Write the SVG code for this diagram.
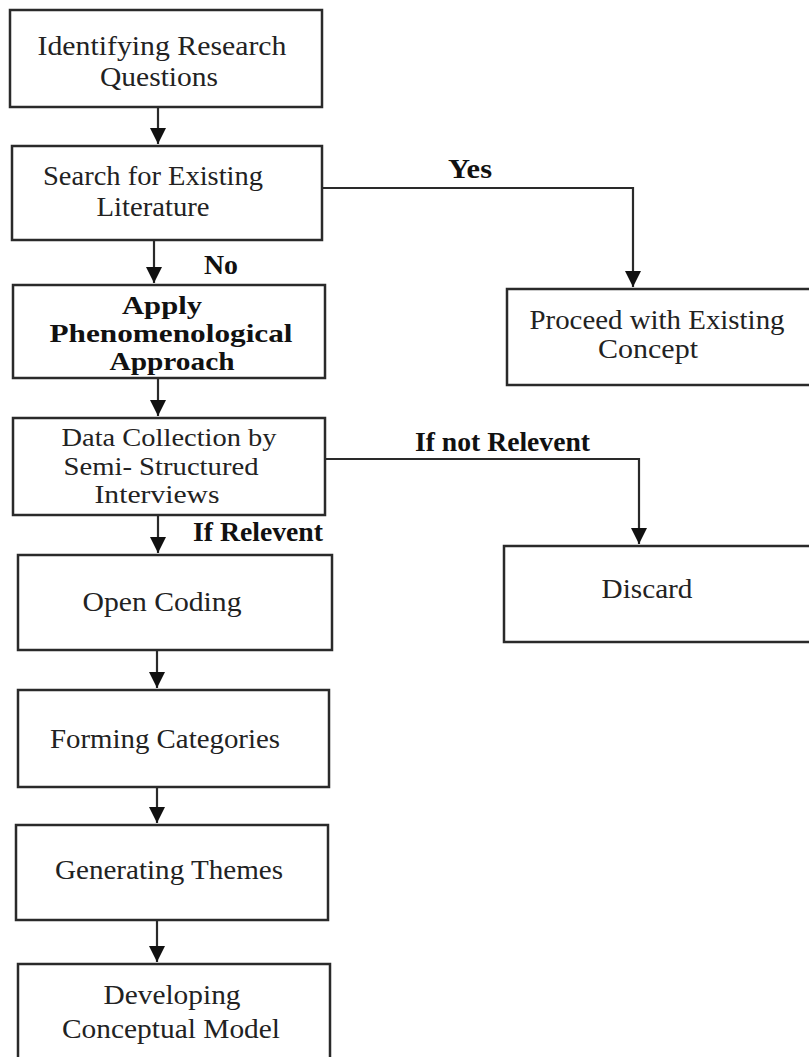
<svg xmlns="http://www.w3.org/2000/svg" width="809" height="1057" viewBox="0 0 809 1057">
<style>
.box{fill:#fff;stroke:#2a2a2a;stroke-width:2.5}
.t{font-family:"Liberation Serif","Times New Roman",serif;font-size:28px;fill:#222;text-anchor:middle}
.s{font-size:25px}
.b{font-family:"Liberation Serif","Times New Roman",serif;font-size:25px;font-weight:bold;fill:#111;text-anchor:middle}
.lbl{font-family:"Liberation Serif","Times New Roman",serif;font-size:27px;font-weight:bold;fill:#111}
.c{fill:none;stroke:#2a2a2a;stroke-width:2.2}
</style>
<defs>
<marker id="ah" markerUnits="userSpaceOnUse" markerWidth="16" markerHeight="16" viewBox="0 0 10 10" refX="10" refY="5" orient="auto">
<path d="M0,0 L10,5 L0,10 z" fill="#111"/>
</marker>
</defs>
<rect width="809" height="1057" fill="#fff"/>
<g id="connectors">
<line class="c" x1="158" y1="107" x2="158" y2="144" marker-end="url(#ah)"/>
<line class="c" x1="154" y1="240" x2="154" y2="283" marker-end="url(#ah)"/>
<line class="c" x1="158" y1="378" x2="158" y2="416" marker-end="url(#ah)"/>
<line class="c" x1="158" y1="515" x2="158" y2="553" marker-end="url(#ah)"/>
<line class="c" x1="157" y1="650" x2="157" y2="688" marker-end="url(#ah)"/>
<line class="c" x1="157" y1="787" x2="157" y2="823" marker-end="url(#ah)"/>
<line class="c" x1="157" y1="920" x2="157" y2="962" marker-end="url(#ah)"/>
<polyline class="c" points="322,188 633,188 633,287" marker-end="url(#ah)"/>
<polyline class="c" points="325,459 639,459 639,544" marker-end="url(#ah)"/>
<text class="lbl" x="448" y="178" textLength="44" lengthAdjust="spacingAndGlyphs">Yes</text>
<text class="lbl" x="204" y="274" textLength="34" lengthAdjust="spacingAndGlyphs">No</text>
<text class="lbl" x="415" y="451" textLength="175" lengthAdjust="spacingAndGlyphs">If not Relevent</text>
<text class="lbl" x="193" y="541" textLength="130" lengthAdjust="spacingAndGlyphs">If Relevent</text>
</g>
<g id="n1"><rect class="box" x="10" y="10" width="312" height="97"/>
<text class="t" x="162" y="55" textLength="249" lengthAdjust="spacingAndGlyphs">Identifying Research</text><text class="t" x="159" y="86" textLength="118" lengthAdjust="spacingAndGlyphs">Questions</text></g>
<g id="n2"><rect class="box" x="12" y="146" width="310" height="94"/>
<text class="t" x="153" y="185" textLength="220" lengthAdjust="spacingAndGlyphs">Search for Existing</text><text class="t" x="153" y="216" textLength="113" lengthAdjust="spacingAndGlyphs">Literature</text></g>
<g id="n3"><rect class="box" x="13" y="285" width="312" height="93"/>
<text class="b" x="162" y="314" textLength="80" lengthAdjust="spacingAndGlyphs">Apply</text><text class="b" x="171" y="342" textLength="243" lengthAdjust="spacingAndGlyphs">Phenomenological</text><text class="b" x="172" y="370" textLength="125" lengthAdjust="spacingAndGlyphs">Approach</text></g>
<g id="n4"><rect class="box" x="13" y="418" width="312" height="97"/>
<text class="t s" x="169" y="446" textLength="215" lengthAdjust="spacingAndGlyphs">Data Collection by</text><text class="t s" x="161" y="475" textLength="195" lengthAdjust="spacingAndGlyphs">Semi- Structured</text><text class="t s" x="157" y="503" textLength="125" lengthAdjust="spacingAndGlyphs">Interviews</text></g>
<g id="n5"><rect class="box" x="18" y="555" width="314" height="95"/>
<text class="t" x="162" y="611" textLength="159" lengthAdjust="spacingAndGlyphs">Open Coding</text></g>
<g id="n6"><rect class="box" x="18" y="690" width="311" height="97"/>
<text class="t" x="165" y="748" textLength="230" lengthAdjust="spacingAndGlyphs">Forming Categories</text></g>
<g id="n7"><rect class="box" x="16" y="825" width="312" height="95"/>
<text class="t" x="169" y="879" textLength="228" lengthAdjust="spacingAndGlyphs">Generating Themes</text></g>
<g id="n8"><rect class="box" x="18" y="964" width="312" height="110"/>
<text class="t" x="172" y="1004" textLength="137" lengthAdjust="spacingAndGlyphs">Developing</text><text class="t" x="171" y="1038" textLength="218" lengthAdjust="spacingAndGlyphs">Conceptual Model</text></g>
<g id="n9"><rect class="box" x="507" y="289" width="320" height="96"/>
<text class="t" x="657" y="329" textLength="255" lengthAdjust="spacingAndGlyphs">Proceed with Existing</text><text class="t" x="648" y="358" textLength="100" lengthAdjust="spacingAndGlyphs">Concept</text></g>
<g id="n10"><rect class="box" x="504" y="546" width="320" height="96"/>
<text class="t" x="647" y="598" textLength="91" lengthAdjust="spacingAndGlyphs">Discard</text></g>
</svg>
